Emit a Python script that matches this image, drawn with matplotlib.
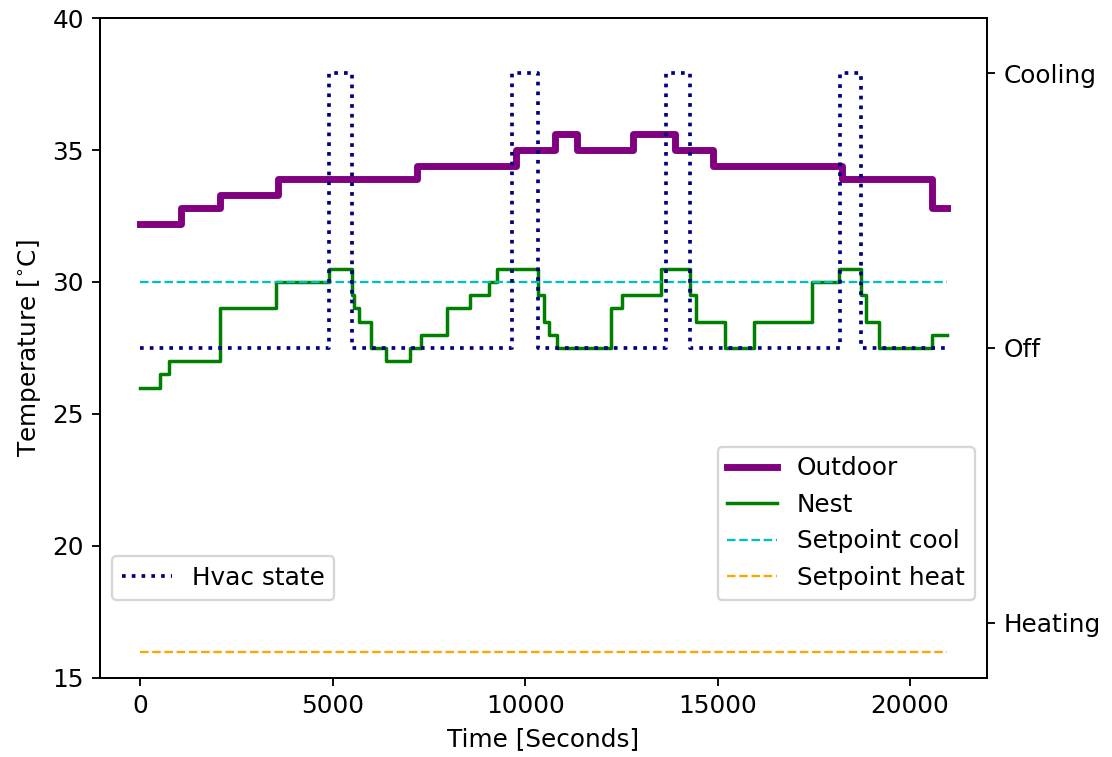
import numpy as np
import matplotlib
matplotlib.use('Agg')
import matplotlib.pyplot as plt

# Outdoor temperature (deg C), step changes in seconds
outdoor_t = [0, 1058, 2072, 3588, 7194, 9768, 10764, 11344, 12800, 13902, 14880, 18218, 20574, 20950]
outdoor_v = [32.2, 32.8, 33.3, 33.9, 34.4, 35.0, 35.6, 35.0, 35.6, 35.0, 34.4, 33.9, 32.8, 32.8]

# Nest thermostat reading
nest_t = [0, 520, 754, 2072, 3528, 4896, 5504, 5564, 5694, 5998, 6388, 7012, 7298, 7964,
          8554, 9048, 9274, 10330, 10478, 10616, 10824, 12220, 12524, 13538, 14274, 14448,
          15184, 15938, 17454, 18156, 18712, 18850, 19196, 20574, 20950]
nest_v = [26.0, 26.5, 27.0, 29.0, 30.0, 30.5, 29.5, 29.0, 28.5, 27.5, 27.0, 27.5, 28.0, 29.0,
          29.5, 30.0, 30.5, 29.5, 28.5, 28.0, 27.5, 29.0, 29.5, 30.5, 29.5, 28.5,
          27.5, 28.5, 30.0, 30.5, 29.5, 28.5, 27.5, 28.0, 28.0]

# HVAC state: -1 heating, 0 off, 1 cooling
hvac_t = [0, 4896, 5504, 9650, 10320, 13670, 14274, 18174, 18712, 20950]
hvac_v = [0, 1, 0, 1, 0, 1, 0, 1, 0, 0]

setpoint_cool = 30
setpoint_heat = 16
t_end = 20950

hvac_ticks = [-1, 0, 1]
hvac_labels = ['Heating', 'Off', 'Cooling']

plt.rcParams['font.size'] = 10.75

dpi = 166
fig = plt.figure(figsize=(1112 / dpi, 757 / dpi), dpi=dpi)
ax = fig.add_axes([0.0899, 0.1044, 0.7977, 0.8718])

ax.plot(outdoor_t, outdoor_v, drawstyle='steps-post', color='purple', linewidth=3, label='Outdoor')
ax.plot(nest_t, nest_v, drawstyle='steps-post', color='green', linewidth=1.5, label='Nest')
ax.plot([0, t_end], [setpoint_cool, setpoint_cool], '--', color='c', linewidth=1, label='Setpoint cool')
ax.plot([0, t_end], [setpoint_heat, setpoint_heat], '--', color='orange', linewidth=1, label='Setpoint heat')
ax.set_ylim(15, 40)
ax.set_xlabel('Time [Seconds]')
ax.set_ylabel(r'Temperature [$^{\circ}$C]')
ax.legend(loc='lower right', bbox_to_anchor=(1, 0.1))

ax2 = ax.twinx()
ax2.plot(hvac_t, hvac_v, drawstyle='steps-post', linestyle=':', color='navy', linewidth=1.6, label='Hvac state')
ax2.set_ylim(-1.2, 1.2)
ax2.set_yticks(hvac_ticks)
ax2.set_yticklabels(hvac_labels)
ax2.legend(loc='lower left', bbox_to_anchor=(0, 0.1))

fig.savefig('out.png', dpi=dpi)
